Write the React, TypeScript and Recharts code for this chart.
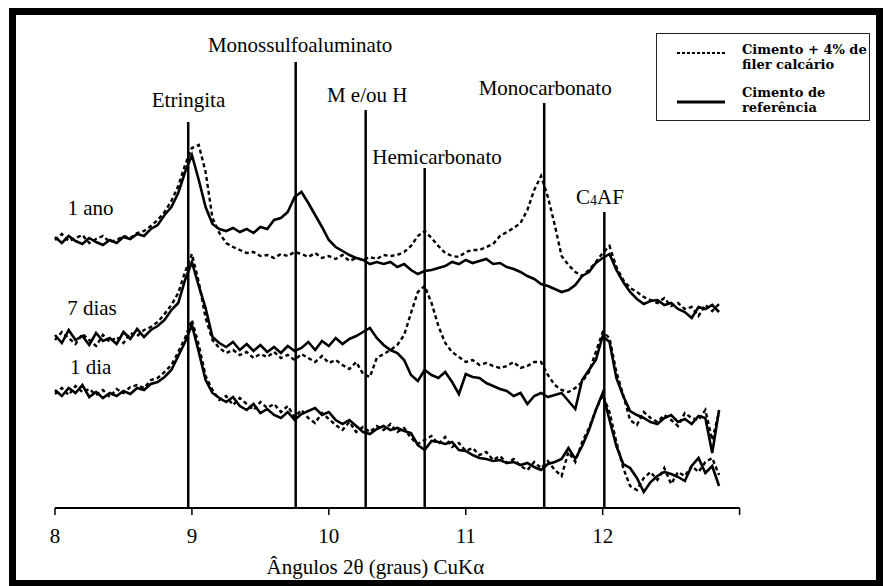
import React from "react";
import { LineChart, Line, XAxis, YAxis, ReferenceLine, ReferenceDot } from "recharts";

// 2θ grid (graus) shared by every pattern
const angles = [
  8.0, 8.05, 8.1, 8.15, 8.2, 8.25, 8.3, 8.35, 8.4, 8.45,
  8.5, 8.55, 8.6, 8.65, 8.7, 8.75, 8.8, 8.85, 8.9, 8.95,
  9.0, 9.05, 9.1, 9.15, 9.2, 9.25, 9.3, 9.35, 9.4, 9.45,
  9.5, 9.55, 9.6, 9.65, 9.7, 9.75, 9.8, 9.85, 9.9, 9.95,
  10.0, 10.05, 10.1, 10.15, 10.2, 10.25, 10.3, 10.35, 10.4, 10.45,
  10.5, 10.55, 10.6, 10.65, 10.7, 10.75, 10.8, 10.85, 10.9, 10.95,
  11.0, 11.05, 11.1, 11.15, 11.2, 11.25, 11.3, 11.35, 11.4, 11.45,
  11.5, 11.55, 11.6, 11.65, 11.7, 11.75, 11.8, 11.85, 11.9, 11.95,
  12.0, 12.05, 12.1, 12.15, 12.2, 12.25, 12.3, 12.35, 12.4, 12.45,
  12.5, 12.55, 12.6, 12.65, 12.7, 12.75, 12.8, 12.85,
];

// intensities (u.a., patterns already offset per age)
const anoFiler = [
  268, 274, 267, 270, 273, 265, 269, 272, 266, 268,
  272, 270, 275, 277, 282, 288, 296, 307, 322, 343,
  360, 363, 336, 290, 275, 265, 261, 258, 255, 256,
  252, 253, 250, 254, 252, 256, 254, 251, 255, 250,
  252, 249, 253, 247, 250, 248, 251, 249, 253, 252,
  253, 256, 262, 272, 277, 270, 262, 255, 252, 251,
  256, 258, 258, 261, 264, 272, 276, 280, 285, 298,
  318, 332, 311, 283, 252, 243, 236, 232, 238, 246,
  255, 262, 241, 228, 220, 216, 211, 208, 205, 210,
  202, 205, 199, 201, 192, 203, 197, 204,
];
const anoRef = [
  271, 265, 272, 267, 264, 270, 266, 263, 268, 265,
  271, 269, 274, 272, 279, 283, 293, 301, 315, 336,
  353, 328, 301, 284, 279, 277, 280, 276, 279, 275,
  281, 279, 288, 290, 296, 311, 316, 305, 293, 281,
  268, 261, 257, 253, 250, 248, 244, 246, 244, 246,
  241, 244, 238, 234, 237, 238, 240, 242, 246, 244,
  248, 245, 247, 249, 244, 245, 241, 239, 236, 232,
  229, 224, 222, 219, 216, 218, 223, 232, 236, 245,
  250, 254, 238, 226, 216, 209, 204, 207, 208, 203,
  205, 199, 196, 190, 201, 199, 203, 196,
];
const seteFiler = [
  168, 176, 170, 164, 174, 168, 162, 173, 166, 171,
  165, 175, 172, 178, 181, 186, 194, 203, 215, 236,
  254, 226, 190, 168, 160, 155, 158, 153, 156, 150,
  154, 151, 156, 150, 153, 148, 154, 150, 146, 152,
  145, 148, 143, 139, 146, 134, 131, 150, 154, 158,
  163, 173, 195, 216, 222, 205, 182, 165, 156, 151,
  146, 148, 143, 145, 142, 140, 142, 146, 140, 142,
  146, 146, 133, 123, 118, 116, 120, 126, 136, 156,
  176, 170, 136, 113, 88, 83, 96, 90, 86, 93,
  88, 82, 95, 90, 88, 98, 68, 96,
];
const seteRef = [
  173, 165, 178, 168, 172, 163, 175, 167, 170, 164,
  176, 169, 179, 171, 178, 182, 188, 198, 205, 228,
  246, 222, 200, 171, 165, 161, 166, 158, 164, 157,
  163, 156, 161, 155, 162, 157, 160, 166, 158, 167,
  162, 170, 164, 169, 172, 176, 180, 170, 163, 158,
  155, 148, 133, 127, 138, 133, 130, 136, 126, 114,
  134, 131, 130, 125, 122, 119, 117, 112, 115, 104,
  112, 115, 111, 113, 115, 107, 99, 128, 138, 148,
  172, 166, 130, 112, 97, 93, 90, 86, 84, 90,
  93, 86, 89, 84, 92, 90, 55, 98,
];
const diaFiler = [
  114, 120, 113, 122, 116, 119, 113, 118, 111, 119,
  115, 121, 123, 120, 128, 130, 136, 143, 156, 170,
  188, 163, 132, 118, 108, 112, 103, 110, 104, 98,
  106, 100, 104, 96, 102, 91, 98, 90, 85, 95,
  89, 83, 78, 86, 76, 81, 76, 82, 78, 84,
  76, 80, 70, 64, 68, 72, 64, 71, 61, 65,
  57, 60, 53, 56, 48, 52, 45, 49, 42, 38,
  46, 40, 47, 38, 32, 56, 46, 66, 80, 98,
  113, 96, 66, 40, 22, 18, 30, 36, 28, 40,
  24, 36, 32, 42, 36, 46, 50, 33,
];
const diaRef = [
  118, 112, 120, 115, 123, 111, 116, 110, 115, 112,
  117, 114, 120, 118, 124, 126, 131, 138, 152, 166,
  183, 156, 128, 115, 110, 106, 111, 102, 98, 104,
  95, 99, 93, 90, 96, 88, 94, 97, 100, 93,
  96, 88, 84, 88, 82, 76, 74, 79, 82, 78,
  80, 77, 75, 63, 58, 67, 66, 64, 66, 58,
  57, 53, 50, 49, 47, 48, 45, 46, 43, 45,
  41, 38, 44, 46, 49, 60, 49, 62, 78, 98,
  115, 88, 62, 44, 40, 30, 16, 26, 32, 36,
  34, 31, 27, 42, 50, 35, 42, 22,
];

// phase markers
const phaseNames = ["Etringita", "Monossulfoaluminato", "M e/ou H", "Hemicarbonato", "Monocarbonato", "C4AF"];
const phaseAngles = [8.973, 9.758, 10.269, 10.7, 11.573, 12.012];

const ageLabels = ["1 ano", "7 dias", "1 dia"];
const xTicks = [8, 9, 10, 11, 12, 13];
const legendLines = [
  ["Cimento + 4% de", "filer calcário"],
  ["Cimento de", "referência"],
];

// where each marker line stops and where its name is written
const phaseLayout = [
  { top: 386, lx: 8.975, ly: 408 },
  { top: 446, lx: 9.79, ly: 463 },
  { top: 398, lx: 10.28, ly: 413 },
  { top: 340, lx: 10.79, ly: 351 },
  { top: 405, lx: 11.58, ly: 420 },
  { top: 296, lx: 11.98, ly: 311 },
];
const ageLayout = [
  { x: 8.26, y: 300 },
  { x: 8.27, y: 200 },
  { x: 8.26, y: 141 },
];

const data = angles.map((angle, i) => ({
  angle,
  anoFiler: anoFiler[i],
  anoRef: anoRef[i],
  seteFiler: seteFiler[i],
  seteRef: seteRef[i],
  diaFiler: diaFiler[i],
  diaRef: diaRef[i],
}));

const SERIF = "'Liberation Serif', 'Times New Roman', serif";
const X_MIN = 8;
const X_MAX = 13;

const textLabel = (value: string) => (props: any) => {
  const { x, y } = props.viewBox;
  if (value === "C4AF") {
    return (
      <text x={x} y={y} textAnchor="middle" dominantBaseline="central" fontFamily={SERIF} fontSize={21} fill="#000">
        <tspan>C</tspan>
        <tspan fontSize={14} dy={3}>4</tspan>
        <tspan dy={-3}>AF</tspan>
      </text>
    );
  }
  return (
    <text x={x} y={y} textAnchor="middle" dominantBaseline="central" fontFamily={SERIF} fontSize={21} fill="#000">
      {value}
    </text>
  );
};

const AxisTitle = (props: any) => {
  const { x, width } = props.viewBox;
  const cx = x + ((10.34 - X_MIN) / (X_MAX - X_MIN)) * width;
  return (
    <text x={cx} y={574} textAnchor="middle" fontFamily={SERIF} fontSize={21} fill="#000">
      Ângulos 2θ (graus) CuKα
    </text>
  );
};

const LegendBox = () => (
  <div
    style={{
      position: "absolute",
      left: 656,
      top: 33,
      width: 214,
      height: 88,
      border: "1.5px solid #222",
      boxSizing: "border-box",
      background: "#fff",
    }}
  >
    <svg width={212} height={86}>
      <line x1={20} x2={68} y1={19} y2={19} stroke="#000" strokeWidth={2} strokeDasharray="3 2" />
      <line x1={20} x2={68} y1={68} y2={68} stroke="#000" strokeWidth={3} />
      {legendLines.map((lines, i) =>
        lines.map((t, j) => (
          <text
            key={`${i}-${j}`}
            x={85}
            y={20 + i * 43 + j * 15}
            fontFamily="'DejaVu Serif', serif"
            fontWeight="bold"
            fontSize={13}
            fill="#000"
          >
            {t}
          </text>
        ))
      )}
    </svg>
  </div>
);

export default function App() {
  return (
    <div style={{ position: "absolute", left: 0, top: 0, width: 883, height: 586, background: "#fff" }}>
      <LineChart
        width={883}
        height={586}
        data={data}
        margin={{ top: 38, right: 143.4, bottom: 0, left: 55 }}
        style={{ position: "absolute", left: 0, top: 0 }}
      >
        <XAxis
          dataKey="angle"
          type="number"
          domain={[X_MIN, X_MAX]}
          ticks={xTicks}
          interval={0}
          height={78}
          tickSize={7}
          tickMargin={13}
          tickFormatter={(v: number) => (v === X_MAX ? "" : String(v))}
          axisLine={{ stroke: "#000", strokeWidth: 2 }}
          tickLine={{ stroke: "#000", strokeWidth: 1.5 }}
          tick={{ fill: "#000", fontSize: 21, fontFamily: SERIF }}
          label={AxisTitle}
        />
        <YAxis hide domain={[0, 470]} />

        {phaseAngles.map((a, i) => (
          <ReferenceLine
            key={phaseNames[i]}
            segment={[
              { x: a, y: 0 },
              { x: a, y: phaseLayout[i].top },
            ]}
            stroke="#000"
            strokeWidth={2.5}
          />
        ))}
        {phaseNames.map((name, i) => (
          <ReferenceDot
            key={`lbl-${name}`}
            x={phaseLayout[i].lx}
            y={phaseLayout[i].ly}
            r={0}
            fill="none"
            stroke="none"
            label={textLabel(name)}
          />
        ))}
        {ageLabels.map((name, i) => (
          <ReferenceDot
            key={`age-${name}`}
            x={ageLayout[i].x}
            y={ageLayout[i].y}
            r={0}
            fill="none"
            stroke="none"
            label={textLabel(name)}
          />
        ))}

        <Line dataKey="anoFiler" type="linear" stroke="#000" strokeWidth={2.4} strokeDasharray="4 3" dot={false} isAnimationActive={false} />
        <Line dataKey="seteFiler" type="linear" stroke="#000" strokeWidth={2.4} strokeDasharray="4 3" dot={false} isAnimationActive={false} />
        <Line dataKey="diaFiler" type="linear" stroke="#000" strokeWidth={2.4} strokeDasharray="4 3" dot={false} isAnimationActive={false} />
        <Line dataKey="anoRef" type="linear" stroke="#000" strokeWidth={2.6} dot={false} isAnimationActive={false} />
        <Line dataKey="seteRef" type="linear" stroke="#000" strokeWidth={2.6} dot={false} isAnimationActive={false} />
        <Line dataKey="diaRef" type="linear" stroke="#000" strokeWidth={2.6} dot={false} isAnimationActive={false} />
      </LineChart>
      <LegendBox />
      <div
        style={{
          position: "absolute",
          left: 9,
          top: 8,
          width: 874,
          height: 579,
          border: "7px solid #000",
          boxSizing: "border-box",
          pointerEvents: "none",
        }}
      />
    </div>
  );
}
